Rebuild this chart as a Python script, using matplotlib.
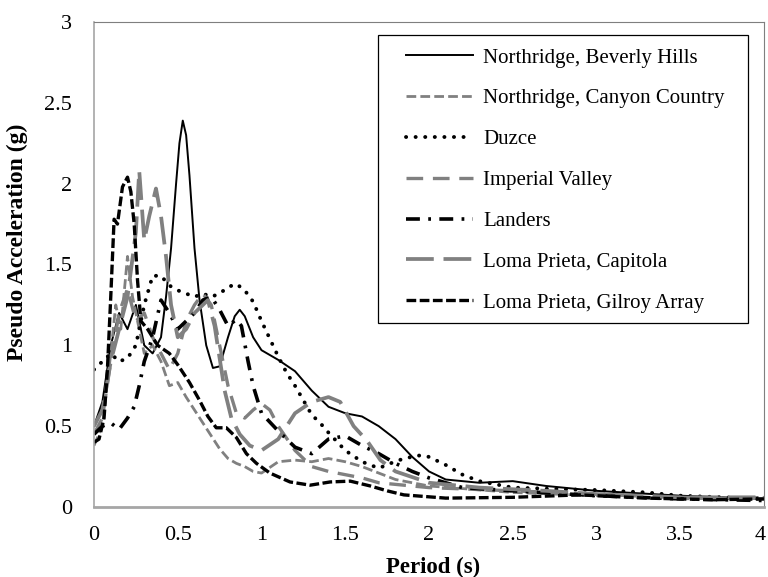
import matplotlib
matplotlib.use("Agg")
import matplotlib.pyplot as plt
import matplotlib.transforms as mtransforms
from matplotlib.patches import Rectangle

plt.rcParams['font.family'] = ['Liberation Serif', 'DejaVu Serif']
plt.rcParams['lines.scale_dashes'] = False

GREY = '#808080'

# ---------------------------------------------------------------------------
# Response spectra (period [s], pseudo acceleration [g])
# ---------------------------------------------------------------------------
bh_T = [0.0, 0.05, 0.1, 0.15, 0.2, 0.25, 0.3, 0.35, 0.4, 0.43, 0.46, 0.49, 0.51, 0.53,
        0.55, 0.57, 0.6, 0.63, 0.67, 0.71, 0.75, 0.8, 0.84, 0.87, 0.9, 0.95, 1.0, 1.05,
        1.1, 1.2, 1.3, 1.4, 1.5, 1.6, 1.7, 1.8, 1.9, 2.0, 2.1, 2.3, 2.5, 2.7, 3.0, 3.5, 4.0]
bh_A = [0.5, 0.65, 1.0, 1.2, 1.1, 1.25, 1.0, 0.95, 1.05, 1.3, 1.6, 2.0, 2.25, 2.39,
        2.3, 2.05, 1.6, 1.28, 1.0, 0.86, 0.87, 1.05, 1.18, 1.22, 1.18, 1.05, 0.97, 0.94,
        0.91, 0.84, 0.72, 0.62, 0.58, 0.56, 0.5, 0.42, 0.31, 0.22, 0.17, 0.15, 0.16, 0.13, 0.1, 0.07, 0.05]

cc_T = [0.0, 0.05, 0.1, 0.13, 0.16, 0.2, 0.23, 0.27, 0.3, 0.35, 0.4, 0.45, 0.5, 0.55,
        0.6, 0.65, 0.7, 0.75, 0.8, 0.85, 0.9, 0.95, 1.0, 1.1, 1.2, 1.3, 1.4, 1.5, 1.6,
        1.7, 1.8, 2.0, 2.5, 3.0, 3.5, 4.0]
cc_A = [0.38, 0.5, 0.95, 1.25, 1.1, 1.55, 1.3, 1.1, 0.95, 1.0, 0.9, 0.75, 0.77, 0.68,
        0.6, 0.52, 0.44, 0.36, 0.3, 0.27, 0.25, 0.22, 0.21, 0.28, 0.29, 0.28, 0.3, 0.28, 0.25,
        0.21, 0.17, 0.13, 0.09, 0.07, 0.05, 0.06]

dz_T = [0.0, 0.05, 0.1, 0.15, 0.2, 0.25, 0.3, 0.35, 0.4, 0.45, 0.5, 0.55, 0.6, 0.65,
        0.7, 0.75, 0.8, 0.85, 0.9, 0.95, 1.0, 1.05, 1.1, 1.15, 1.2, 1.25, 1.3, 1.35, 1.4,
        1.5, 1.6, 1.7, 1.77, 1.85, 1.95, 2.0, 2.1, 2.2, 2.3, 2.5, 2.8, 3.0, 3.3, 3.5, 4.0]
dz_A = [0.85, 0.9, 0.95, 0.9, 0.92, 1.0, 1.25, 1.43, 1.43, 1.37, 1.34, 1.32, 1.3, 1.32,
        1.3, 1.32, 1.36, 1.38, 1.34, 1.27, 1.15, 1.04, 0.93, 0.83, 0.75, 0.66, 0.57, 0.52, 0.46,
        0.35, 0.28, 0.24, 0.27, 0.3, 0.32, 0.31, 0.26, 0.2, 0.16, 0.12, 0.11, 0.105, 0.09, 0.07, 0.05]

iv_T = [0.0, 0.05, 0.1, 0.15, 0.2, 0.25, 0.3, 0.35, 0.4, 0.45, 0.5, 0.55, 0.6, 0.65,
        0.7, 0.75, 0.8, 0.85, 0.9, 0.95, 1.0, 1.05, 1.1, 1.2, 1.3, 1.4, 1.5, 1.6, 1.7,
        1.8, 2.0, 2.5, 3.0, 3.5, 4.0]
iv_A = [0.45, 0.55, 0.9, 1.2, 1.35, 1.15, 1.2, 1.05, 0.95, 0.85, 0.95, 1.15, 1.25, 1.32,
        1.25, 1.0, 0.75, 0.58, 0.55, 0.6, 0.64, 0.6, 0.5, 0.35, 0.25, 0.22, 0.2, 0.18, 0.15,
        0.14, 0.12, 0.1, 0.08, 0.06, 0.05]

ld_T = [0.0, 0.05, 0.1, 0.15, 0.2, 0.24, 0.27, 0.3, 0.35, 0.4, 0.45, 0.5, 0.55, 0.6,
        0.65, 0.7, 0.75, 0.8, 0.85, 0.88, 0.92, 0.95, 1.0, 1.1, 1.2, 1.3, 1.4, 1.5, 1.6,
        1.7, 1.8, 1.9, 2.0, 2.2, 2.5, 3.0, 3.5, 4.0]
ld_A = [0.45, 0.5, 0.52, 0.48, 0.55, 0.62, 0.75, 0.9, 1.05, 1.28, 1.2, 1.1, 1.15, 1.2,
        1.28, 1.3, 1.22, 1.12, 1.16, 1.12, 0.9, 0.75, 0.58, 0.47, 0.37, 0.33, 0.42, 0.44, 0.38,
        0.33, 0.27, 0.22, 0.18, 0.12, 0.1, 0.07, 0.05, 0.04]

cp_T = [0.0, 0.05, 0.1, 0.15, 0.2, 0.25, 0.27, 0.3, 0.33, 0.37, 0.4, 0.43, 0.46, 0.5,
        0.55, 0.6, 0.65, 0.68, 0.72, 0.75, 0.78, 0.82, 0.87, 0.93, 1.0, 1.1, 1.2, 1.3,
        1.4, 1.47, 1.55, 1.63, 1.71, 1.8, 2.0, 2.3, 2.7, 3.0, 3.5, 4.0]
cp_A = [0.5, 0.6, 0.9, 1.1, 1.3, 1.7, 2.08, 1.65, 1.8, 1.97, 1.8, 1.55, 1.25, 1.05,
        1.1, 1.2, 1.25, 1.28, 1.12, 0.92, 0.72, 0.55, 0.45, 0.38, 0.35, 0.42, 0.58, 0.65,
        0.68, 0.65, 0.5, 0.41, 0.29, 0.22, 0.15, 0.12, 0.1, 0.08, 0.06, 0.06]

gl_T = [0.0, 0.03, 0.06, 0.08, 0.1, 0.12, 0.14, 0.17, 0.2, 0.22, 0.24, 0.26, 0.28,
        0.32, 0.38, 0.45, 0.5, 0.57, 0.63, 0.68, 0.73, 0.79, 0.85, 0.91, 0.97, 1.05, 1.17,
        1.29, 1.41, 1.53, 1.65, 1.75, 1.85, 2.1, 2.5, 2.9, 3.3, 3.7, 4.0]
gl_A = [0.4, 0.42, 0.55, 0.85, 1.3, 1.78, 1.75, 1.98, 2.04, 1.95, 1.75, 1.4, 1.15,
        1.1, 1.0, 0.95, 0.88, 0.77, 0.66, 0.56, 0.49, 0.49, 0.43, 0.33, 0.27, 0.21, 0.155,
        0.135, 0.155, 0.16, 0.13, 0.1, 0.075, 0.055, 0.06, 0.075, 0.055, 0.045, 0.05]

x_ticks = [0, 0.5, 1, 1.5, 2, 2.5, 3, 3.5, 4]
x_tick_labels = ['0', '0.5', '1', '1.5', '2', '2.5', '3', '3.5', '4']
y_ticks = [0, 0.5, 1, 1.5, 2, 2.5, 3]
y_tick_labels = ['0', '0.5', '1', '1.5', '2', '2.5', '3']

fig = plt.figure(figsize=(7.68, 5.77), dpi=100)
ax = fig.add_axes([0.1224, 0.1213, 0.8724, 0.8406])

ax.plot(bh_T, bh_A, color='black', lw=1.4, label='Northridge, Beverly Hills')
ax.plot(cc_T, cc_A, color=GREY, lw=2.0, dashes=(7, 3), label='Northridge, Canyon Country')
ax.plot(dz_T, dz_A, color='black', lw=2.8, dashes=(0.1, 6.8), dash_capstyle='round',
        label='Duzce')
ax.plot(iv_T, iv_A, color=GREY, lw=2.4, dashes=(12, 7), label='Imperial Valley')
ax.plot(ld_T, ld_A, color='black', lw=2.6, dashes=(10, 6, 2, 6), label='Landers')
ax.plot(cp_T, cp_A, color=GREY, lw=2.7, dashes=(20, 7), label='Loma Prieta, Capitola')
ax.plot(gl_T, gl_A, color='black', lw=2.4, dashes=(7, 2.5), label='Loma Prieta, Gilroy Array')

ax.set_xlim(0, 4)
ax.set_ylim(0, 3)
ax.set_xticks(x_ticks)
ax.set_xticklabels(x_tick_labels)
ax.set_yticks(y_ticks)
ax.set_yticklabels(y_tick_labels)
ax.tick_params(length=0, labelsize=16)
ax.tick_params(axis='x', pad=14)
ax.tick_params(axis='y', pad=16)

# keep the last x label inside the canvas
last = ax.get_xticklabels()[-1]
last.set_transform(last.get_transform() +
                   mtransforms.ScaledTranslation(-3 / 72, 0, fig.dpi_scale_trans))

for s in ax.spines.values():
    s.set_color('#7f7f7f')
    s.set_linewidth(0.8)
ax.spines['bottom'].set_color('#a6a6a6')
ax.spines['bottom'].set_linewidth(2)
ax.spines['left'].set_color('#a6a6a6')
ax.spines['left'].set_linewidth(1.2)

ax.set_xlabel('Period (s)', fontsize=16.5, fontweight='bold', va='top')
ax.xaxis.set_label_coords(0.506, -0.103)
ax.set_ylabel('Pseudo Acceleration (g)', fontsize=17, fontweight='bold')
ax.yaxis.set_label_coords(-0.098, 0.545)

leg = ax.legend(loc='upper left', bbox_to_anchor=(0.5286, 0.9168),
                bbox_transform=fig.transFigure, fontsize=15, frameon=False,
                handlelength=3.2, handletextpad=0.5, labelspacing=1.02,
                borderpad=0, borderaxespad=0)

# legend box drawn separately so the side margins can be wider than the top one
fig.patches.append(Rectangle((0.4922, 0.4402), 0.4818, 0.4991, transform=fig.transFigure,
                             fill=False, edgecolor='black', linewidth=0.9, zorder=5))

fig.savefig('out.png', dpi=100)
